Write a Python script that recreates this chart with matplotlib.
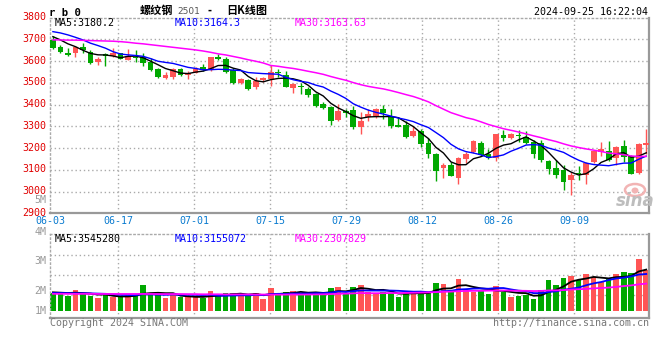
import numpy as np
import pandas as pd
import matplotlib
matplotlib.use("Agg")
import matplotlib.pyplot as plt
import matplotlib.transforms as mtransforms
from matplotlib.patches import Ellipse

# rb2501 daily bars, 2024-06-03 .. 2024-09-25 (80 sessions)
opens = [3697, 3666, 3639, 3636, 3666, 3642, 3597, 3631, 3625, 3636,
         3605, 3620, 3617, 3597, 3562, 3521, 3528, 3564, 3536, 3547,
         3574, 3559, 3620, 3610, 3559, 3501, 3513, 3482, 3513, 3518,
         3551, 3536, 3478, 3485, 3472, 3449, 3403, 3390, 3329, 3370,
         3375, 3298, 3341, 3347, 3380, 3347, 3306, 3306, 3256, 3278,
         3225, 3173, 3107, 3122, 3064, 3150, 3180, 3222, 3171, 3156,
         3260, 3245, 3260, 3253, 3230, 3222, 3141, 3110, 3099, 3053,
         3087, 3076, 3134, 3184, 3187, 3153, 3210, 3164, 3084, 3214]
highs = [3715, 3674, 3659, 3669, 3682, 3651, 3617, 3636, 3659, 3639,
         3655, 3651, 3636, 3613, 3567, 3548, 3570, 3570, 3556, 3571,
         3584, 3620, 3633, 3617, 3567, 3522, 3516, 3528, 3528, 3582,
         3562, 3554, 3501, 3498, 3482, 3452, 3410, 3393, 3403, 3378,
         3393, 3367, 3380, 3383, 3398, 3380, 3341, 3326, 3301, 3288,
         3245, 3179, 3130, 3138, 3161, 3184, 3237, 3233, 3196, 3265,
         3283, 3268, 3283, 3276, 3237, 3237, 3145, 3145, 3122, 3092,
         3118, 3138, 3191, 3229, 3233, 3210, 3237, 3168, 3222, 3288]
lows = [3654, 3636, 3625, 3620, 3636, 3587, 3582, 3577, 3620, 3608,
        3603, 3597, 3577, 3556, 3524, 3518, 3518, 3533, 3516, 3544,
        3556, 3556, 3605, 3547, 3495, 3495, 3467, 3473, 3505, 3487,
        3525, 3479, 3455, 3449, 3436, 3390, 3378, 3306, 3326, 3341,
        3288, 3265, 3326, 3337, 3332, 3291, 3295, 3248, 3249, 3203,
        3156, 3050, 3064, 3072, 3035, 3130, 3179, 3164, 3150, 3142,
        3233, 3242, 3230, 3219, 3156, 3138, 3081, 3064, 3007, 2984,
        3053, 3035, 3130, 3164, 3141, 3122, 3138, 3081, 3081, 3173]
closes = [3662, 3643, 3628, 3663, 3651, 3590, 3610, 3625, 3639, 3611,
          3623, 3614, 3590, 3559, 3528, 3536, 3564, 3536, 3547, 3562,
          3559, 3620, 3608, 3551, 3498, 3516, 3473, 3510, 3524, 3548,
          3544, 3482, 3493, 3479, 3444, 3394, 3386, 3326, 3370, 3363,
          3298, 3326, 3357, 3378, 3363, 3301, 3298, 3252, 3278, 3219,
          3171, 3096, 3122, 3073, 3153, 3173, 3234, 3168, 3153, 3265,
          3248, 3265, 3256, 3222, 3173, 3145, 3104, 3076, 3046, 3076,
          3079, 3133, 3188, 3194, 3145, 3207, 3161, 3081, 3219, 3222]
volumes = [1500000, 1500000, 1290000, 1780000, 1500000, 1290000, 1060000, 1350000, 1210000, 1210000,
           1290000, 1350000, 2210000, 1500000, 1350000, 1120000, 1350000, 1150000, 1210000, 1150000,
           1060000, 1690000, 1290000, 1530000, 1530000, 1290000, 1290000, 1560000, 1010000, 1950000,
           1350000, 1600000, 1690000, 1500000, 1600000, 1500000, 1350000, 1950000, 2040000, 1500000,
           2040000, 2210000, 1630000, 1500000, 1580000, 1500000, 1150000, 1560000, 1690000, 1560000,
           1600000, 2380000, 2290000, 1780000, 2730000, 1780000, 1630000, 1690000, 1440000, 2130000,
           1630000, 1180000, 1260000, 1350000, 1010000, 1780000, 2640000, 2210000, 2810000, 3010000,
           2640000, 3160000, 2900000, 2500000, 2690000, 3160000, 3320000, 3250000, 4440000, 3500000]

# the first points of each average depend on sessions before 06-03,
# so those are read off the chart too
ma5_head = [3712, 3697, 3679, 3666]
ma10_head = [3735, 3729, 3720, 3709, 3697, 3682, 3671, 3659, 3643]
ma30_head = [3697, 3697, 3696, 3696, 3695, 3694, 3693, 3692, 3691, 3689,
             3686, 3682, 3679, 3675, 3671, 3667, 3663, 3659, 3655, 3651,
             3646, 3640, 3633, 3628, 3621, 3614, 3606, 3599, 3591]
vma5_head = [1580000, 1550000, 1520000, 1550000]
vma10_head = [1520000, 1520000, 1510000, 1500000, 1500000, 1490000, 1470000, 1450000, 1420000]
vma30_head = [1450000, 1450000, 1450000, 1450000, 1450000, 1450000, 1440000, 1440000, 1440000, 1440000,
              1440000, 1440000, 1440000, 1440000, 1430000, 1430000, 1430000, 1430000, 1420000, 1420000,
              1410000, 1410000, 1410000, 1400000, 1400000, 1400000, 1400000, 1390000, 1390000]

date_idx = [0, 9, 19, 29, 39, 49, 59, 69]
date_labels = ['06-03', '06-17', '07-01', '07-15', '07-29', '08-12', '08-26', '09-09']
price_ticks = [2900, 3000, 3100, 3200, 3300, 3400, 3500, 3600, 3700, 3800]
vol_labels = ['5M', '4M', '3M', '2M', '1M']

RED = '#ff5555'
GREEN = '#00a800'
GRID = '#aaaaaa'
DOT = (0, (1, 2))
plt.rcParams['font.family'] = ['DejaVu Sans Mono']
FS = 7.2


def moving_average(values, window, head):
    ma = pd.Series(values, dtype=float).rolling(window).mean().to_numpy()
    ma[:window - 1] = head
    return ma


n = len(closes)
x = np.arange(n)
o = np.array(opens, float)
c = np.array(closes, float)
colors = np.where(c >= o, RED, GREEN)

W, H = 660, 360
def fx(px):
    return px / W
def fy(py):
    return 1 - py / H

fig = plt.figure(figsize=(6.6, 3.6), dpi=100)
ax = fig.add_axes([fx(50), fy(213.3), fx(649) - fx(50), fy(17.5) - fy(213.3)])
vax = fig.add_axes([fx(50), fy(318), fx(649) - fx(50), fy(234) - fy(318)])

# candles are 7.51 px apart, the first 2.9 px inside the frame;
# the date grid runs at 7.6 px per session
step = 7.51
x0 = 2.9
xlim = (-x0 / step, (599 - x0) / step)
grid_x = [(7.6 * k - x0) / step for k in date_idx]

for a in (ax, vax):
    a.set_xlim(*xlim)
    for s in ('top', 'left'):
        a.spines[s].set_color(GRID)
        a.spines[s].set_linestyle(DOT)
        a.spines[s].set_linewidth(1)
    for s in ('bottom', 'right'):
        a.spines[s].set_color('#999999')
        a.spines[s].set_linewidth(1.6)
    for gx in grid_x[1:]:
        a.axvline(gx, color=GRID, lw=1, ls=DOT, zorder=0)

# price panel
ax.set_ylim(2900, 3800)
for p in price_ticks[1:-1]:
    ax.axhline(p, color=GRID, lw=1, ls=DOT, zorder=0)
ax.vlines(x, lows, highs, colors=colors, linewidth=1, zorder=2)
ax.bar(x, np.maximum(np.abs(c - o), 1.5), bottom=np.minimum(o, c), width=0.77,
       color=colors, linewidth=0, zorder=3)
ax.plot(x, moving_average(closes, 5, ma5_head), color='black', lw=1, zorder=4)
ax.plot(x, moving_average(closes, 10, ma10_head), color='#0000ff', lw=1, zorder=4)
ax.plot(x, moving_average(closes, 30, ma30_head), color='#ff00ff', lw=1.1, zorder=4)

ax.set_yticks(price_ticks)
ax.set_yticklabels([str(p) for p in price_ticks])
ax.tick_params(axis='y', length=0, pad=3, labelcolor='#e00000', labelsize=FS)
shift = mtransforms.ScaledTranslation(0, 1.5 / 100, fig.dpi_scale_trans)
for lab in ax.get_yticklabels():
    lab.set_transform(lab.get_transform() + shift)
ax.set_xticks(grid_x)
ax.set_xticklabels(date_labels)
ax.tick_params(axis='x', length=0, pad=2.2, labelcolor='#0a7bd0', labelsize=FS)

# volume panel
vax.set_ylim(-0.628e6, 6.595e6)
for v in (1.324e6, 3.044e6, 4.764e6):
    vax.axhline(v, color=GRID, lw=1, ls=DOT, zorder=0)
vax.bar(x, volumes, width=0.76, color=colors, linewidth=0, zorder=2)
vax.plot(x, moving_average(volumes, 5, vma5_head), color='black', lw=1.3, zorder=3)
vax.plot(x, moving_average(volumes, 10, vma10_head), color='#0000ff', lw=1.3, zorder=3)
vax.plot(x, moving_average(volumes, 30, vma30_head), color='#ff00ff', lw=1.3, zorder=3)
vax.set_xticks([])
vax.set_yticks([])

for lab, py in zip(vol_labels, [200.3, 231.5, 260.7, 290.5, 311.2]):
    fig.text(fx(46.5), fy(py), lab, color='#999999', fontsize=FS, ha='right', va='center')

# header
fig.text(fx(49), fy(12.5), 'r b 0', fontsize=7.7, weight='bold', va='center')
cjk = ['Noto Sans CJK SC', 'DejaVu Sans']
fig.text(fx(140), fy(10.5), '螺纹钢', family=cjk, fontsize=8, weight='bold', va='center')
fig.text(fx(177), fy(11), '2501', family='DejaVu Sans', fontsize=6.5, color='#555555', va='center')
fig.text(fx(210), fy(10.5), '-', family=cjk, fontsize=8, weight='bold', va='center', ha='center')
fig.text(fx(226), fy(10.5), '日K线图', family=cjk, fontsize=8, weight='bold', va='center')
fig.text(fx(648.5), fy(12.3), '2024-09-25 16:22:04', fontsize=FS, ha='right', va='center')

# legends
for py, texts in ((23.3, ['MA5:3180.2', 'MA10:3164.3', 'MA30:3163.63']),
                  (239, ['MA5:3545280', 'MA10:3155072', 'MA30:2307829'])):
    for px, t, col in zip([54.3, 174.3, 295], texts, ['black', '#0000ff', '#ff00ff']):
        fig.text(fx(px), fy(py), t, color=col, fontsize=FS, va='center')

# watermark
fig.add_artist(Ellipse((fx(635), fy(190)), 20 / W, 12 / H, transform=fig.transFigure,
                       facecolor='none', edgecolor='#f2b4b4', lw=1.8))
fig.add_artist(Ellipse((fx(635), fy(190.5)), 7 / W, 6 / H, transform=fig.transFigure,
                       facecolor='#f2b4b4', edgecolor='none'))
fig.text(fx(635), fy(200.5), 'sina', family='DejaVu Sans', fontsize=12, weight='bold',
         style='italic', color='#bdbdbd', ha='center', va='center')

# footer
fig.text(fx(50), fy(323.3), 'Copyright 2024 SINA.COM', color='#777777', fontsize=FS, va='center')
fig.text(fx(649), fy(323.3), 'http://finance.sina.com.cn', color='#777777', fontsize=FS,
         ha='right', va='center')

fig.savefig('out.png', dpi=100, facecolor='white')
